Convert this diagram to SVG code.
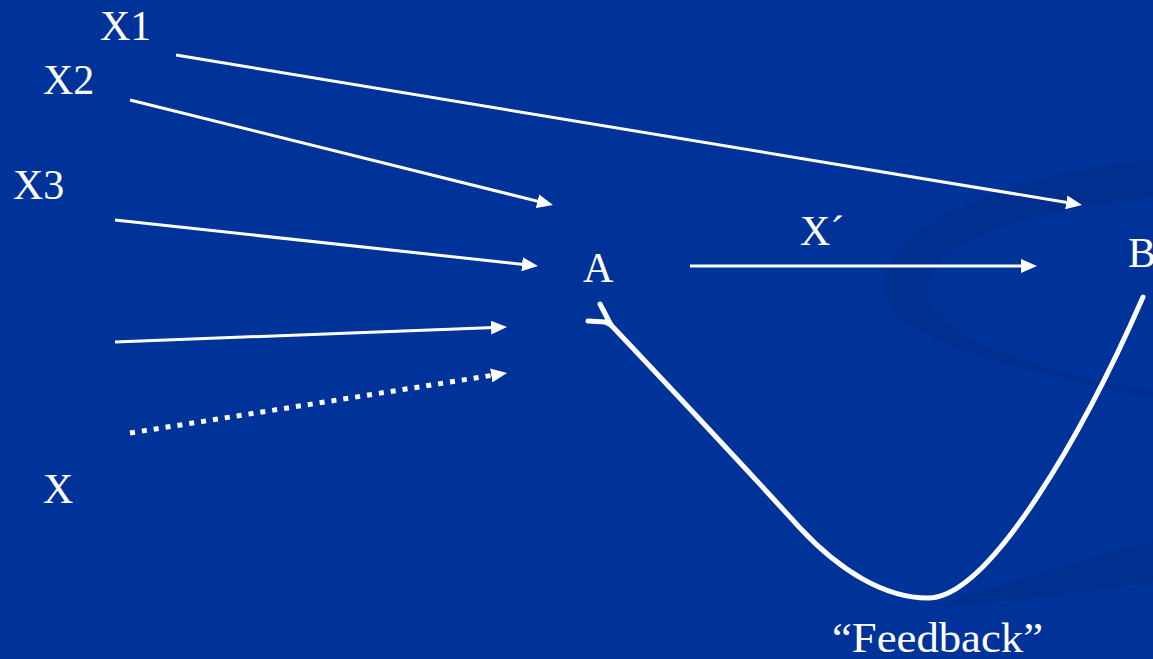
<svg xmlns="http://www.w3.org/2000/svg" width="1153" height="659" viewBox="0 0 1153 659">
  <defs>
    <style>
      .lbl { font-family: "Liberation Serif", "Times New Roman", serif; font-size: 42px; fill: #ffffff; }
      .arr { stroke: #ffffff; stroke-width: 3; fill: none; marker-end: url(#head); }
      .dot { stroke: #ffffff; stroke-width: 5; fill: none; stroke-dasharray: 5 7; marker-end: url(#head); }
      .fb { stroke: #ffffff; stroke-width: 5; fill: none; stroke-linecap: round; stroke-linejoin: round; }
      .swoosh { fill: #002f8f; }
    </style>
    <marker id="head" markerUnits="userSpaceOnUse" markerWidth="16" markerHeight="14" refX="10" refY="7" orient="auto">
      <path d="M0,0 L16,7 L0,14 Z" fill="#ffffff"/>
    </marker>
  </defs>

  <rect width="1153" height="659" fill="#003399"/>
  <g id="background">
    <path class="swoosh" d="M1153,160 C1010,175 885,225 885,285 C885,335 980,362 1153,398 L1153,392 C1000,362 928,330 928,290 C928,245 1010,212 1153,197 Z"/>
    <path class="swoosh" d="M1153,541 L1153,582 C1080,592 1000,604 930,606 C990,590 1080,560 1153,541 Z"/>
  </g>

  <g id="connectors">
    <line class="arr" x1="176" y1="55" x2="1076.1" y2="204"/>
    <line class="arr" x1="130" y1="100" x2="547.2" y2="203.6"/>
    <line class="arr" x1="115" y1="220" x2="532" y2="265.4"/>
    <line class="arr" x1="115" y1="342" x2="501" y2="327.2"/>
    <line class="dot" x1="130" y1="433" x2="501.1" y2="373.9"/>
    <line class="arr" x1="690" y1="266" x2="1031" y2="266"/>
    <path class="fb" d="M1143,297 C1085,430 990,598 928,598 C885,598 840,571 800,528 C740,462 680,398 611,325"/>
    <path class="fb" d="M600,304 L611,325 M588,321 L605,322 L611,325"/>
  </g>

  <g id="node-X1"><text class="lbl" x="100" y="40">X1</text></g>
  <g id="node-X2"><text class="lbl" x="43" y="94">X2</text></g>
  <g id="node-X3"><text class="lbl" x="13" y="199">X3</text></g>
  <g id="node-X"><text class="lbl" x="43" y="503">X</text></g>
  <g id="node-A"><text class="lbl" x="583" y="282">A</text></g>
  <g id="node-B"><text class="lbl" x="1128" y="267">B</text></g>
  <g id="label-Xprime"><text class="lbl" x="800" y="245">X´</text></g>
  <g id="label-feedback"><text class="lbl" x="832" y="652" textLength="211" lengthAdjust="spacingAndGlyphs">“Feedback”</text></g>
</svg>
